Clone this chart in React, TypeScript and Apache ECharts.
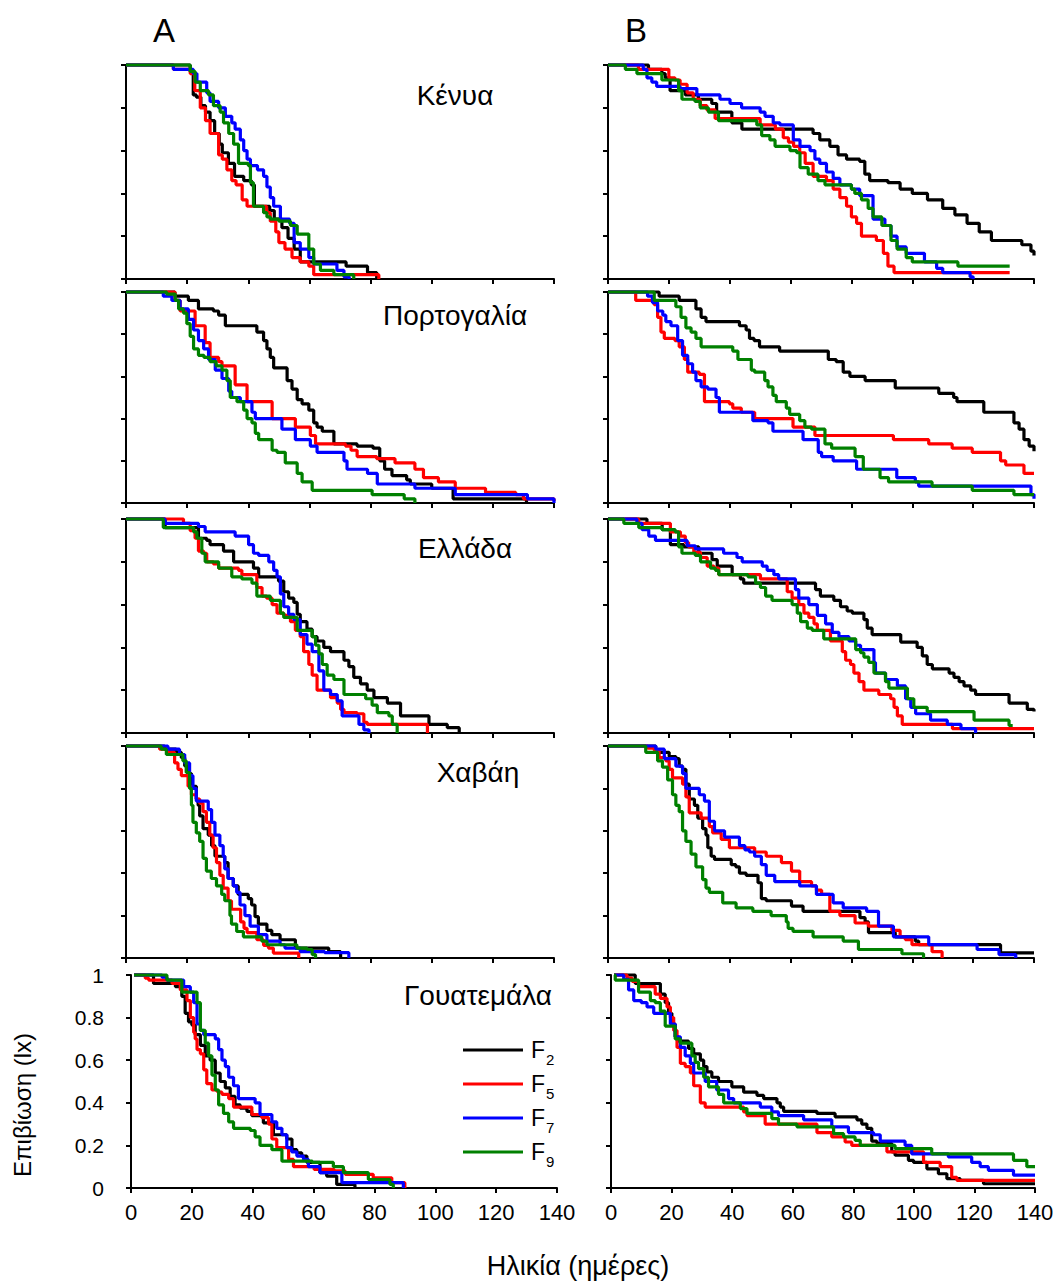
import React, { useEffect, useRef } from 'react';
import * as echarts from 'echarts';

// ---------- Data (day, survival lx) ----------
const xTickValues = [0, 20, 40, 60, 80, 100, 120, 140];
const yTickValues = [0, 0.2, 0.4, 0.6, 0.8, 1];
const seriesNames = ['F2', 'F5', 'F7', 'F9'];
const panelTitles = ['Κένυα', 'Πορτογαλία', 'Ελλάδα', 'Χαβάη', 'Γουατεμάλα'];

// Kenya A
const kenyaA_F2 = [[0,1],[21,0.97],[22,0.86],[23,0.85],[24.5,0.81],[26,0.78],[27.5,0.74],[29,0.68],[30.5,0.63],[31.5,0.59],[33.5,0.54],[35.5,0.48],[38.5,0.46],[41,0.44],[42,0.34],[47,0.32],[48.5,0.28],[51,0.24],[53,0.19],[55,0.14],[57,0.08],[72,0.06],[79,0.03],[82,0]];
const kenyaA_F5 = [[0,1],[15.5,0.98],[21,0.96],[22.5,0.88],[24.3,0.80],[26,0.74],[27.5,0.68],[30.3,0.58],[31.5,0.56],[33,0.51],[34.6,0.46],[36,0.44],[38,0.37],[39.6,0.34],[46,0.31],[47.2,0.27],[49,0.22],[50,0.17],[52,0.14],[54.3,0.10],[57,0.08],[59.8,0.06],[61.4,0.02],[82.7,0]];
const kenyaA_F7 = [[0,1],[15.5,0.98],[22,0.96],[23.2,0.92],[26.4,0.87],[27.5,0.83],[30.3,0.80],[32.5,0.76],[34.6,0.73],[35.7,0.70],[37.4,0.65],[38.5,0.60],[39.6,0.56],[40.7,0.53],[43,0.51],[45,0.48],[46.1,0.43],[47.2,0.38],[48.3,0.34],[50.5,0.28],[53.5,0.26],[55,0.17],[57,0.14],[59.8,0.10],[61.4,0.07],[69,0.04],[71.3,0.01],[73,0]];
const kenyaA_F9 = [[0,1],[21,0.97],[22.6,0.92],[24.3,0.88],[27,0.86],[28.6,0.81],[30.8,0.78],[31.9,0.73],[33.6,0.68],[35.2,0.63],[36.8,0.54],[40,0.53],[40.7,0.45],[41.7,0.34],[45,0.31],[46.1,0.29],[47.2,0.28],[50,0.27],[53.8,0.25],[56,0.21],[59.8,0.14],[61.4,0.07],[63.6,0.04],[68,0.02],[74.5,0]];

// Kenya B
const kenyaB_F2 = [[0,1],[13.3,0.98],[17.7,0.96],[18.8,0.94],[20.4,0.88],[25.4,0.86],[29.7,0.84],[34.1,0.82],[35.7,0.78],[40.7,0.73],[44,0.70],[67.4,0.68],[69.6,0.65],[72.9,0.62],[75.6,0.58],[78.4,0.56],[82.7,0.55],[84.4,0.49],[86,0.46],[92,0.45],[96,0.42],[100,0.40],[105,0.37],[110,0.33],[114,0.30],[118,0.26],[122,0.22],[126,0.18],[136,0.16],[139,0.13],[140,0.11]];
const kenyaB_F5 = [[0,1],[10,0.98],[20,0.94],[22,0.93],[23.7,0.91],[26,0.87],[28,0.84],[30.3,0.81],[32.5,0.79],[35.2,0.75],[50,0.72],[55,0.70],[57.6,0.66],[59.3,0.64],[61,0.62],[63,0.59],[64.8,0.54],[67.4,0.48],[71.8,0.46],[74,0.42],[76.2,0.38],[78.4,0.34],[80,0.29],[81.7,0.26],[83.3,0.20],[88.2,0.18],[90.5,0.12],[92,0.06],[94,0.03],[132,0.03]];
const kenyaB_F7 = [[0,1],[11.6,0.98],[12.8,0.94],[14.4,0.92],[16,0.90],[23.7,0.89],[29.2,0.86],[36.8,0.84],[40.1,0.82],[43.9,0.80],[50,0.78],[51.6,0.76],[54.3,0.73],[56.5,0.72],[60.9,0.65],[63.1,0.62],[66.4,0.60],[68,0.56],[69.6,0.54],[71.8,0.50],[74,0.47],[76.2,0.44],[80,0.42],[82.7,0.39],[87.1,0.28],[91,0.25],[93,0.20],[95,0.15],[98,0.12],[104,0.08],[108,0.05],[110,0.03],[119,0.01],[120,0]];
const kenyaB_F9 = [[0,1],[5.7,0.98],[9.5,0.96],[17.7,0.93],[23.2,0.88],[24.3,0.84],[28.6,0.83],[30.3,0.80],[33,0.78],[36.3,0.74],[48.9,0.72],[50.5,0.67],[53.2,0.65],[54.9,0.62],[59.8,0.60],[62,0.59],[63.1,0.52],[65.8,0.49],[69,0.46],[71.3,0.44],[80,0.42],[81.1,0.40],[83.3,0.37],[85.5,0.33],[87.1,0.29],[90,0.25],[93,0.18],[95,0.14],[98,0.10],[100,0.08],[115,0.06],[132,0.06]];

// Portugal A
const portugalA_F2 = [[0,1],[16,0.98],[20.4,0.96],[23.7,0.92],[28.6,0.91],[30.3,0.89],[32.5,0.84],[42.8,0.81],[45,0.77],[46.1,0.73],[47.2,0.69],[48.3,0.64],[52.7,0.58],[54.3,0.54],[56,0.49],[57.6,0.47],[59.8,0.44],[61.4,0.38],[62.5,0.36],[64.2,0.34],[68,0.28],[75.6,0.27],[80.8,0.26],[83,0.20],[84.6,0.16],[87,0.13],[91.8,0.11],[93,0.09],[100,0.07],[107,0.02],[131,0]];
const portugalA_F5 = [[0,1],[16,0.96],[17.7,0.91],[22.6,0.84],[25.9,0.76],[27.5,0.69],[30.3,0.67],[31.4,0.65],[35.7,0.56],[39.6,0.48],[47.8,0.40],[55.4,0.36],[60.3,0.32],[62,0.28],[71.8,0.27],[73.6,0.25],[75.6,0.22],[82,0.21],[88,0.19],[94.5,0.16],[97.3,0.12],[102.2,0.10],[107.7,0.07],[117.6,0.05],[127.5,0.04],[130,0.02],[140,0.01]];
const portugalA_F7 = [[0,1],[12.2,0.98],[15,0.96],[17.7,0.92],[20.4,0.87],[22.1,0.82],[23.7,0.77],[25.4,0.73],[27,0.68],[29.2,0.63],[31.4,0.59],[33.6,0.53],[34.6,0.50],[37.4,0.48],[41.2,0.43],[42.3,0.40],[51,0.35],[55.4,0.30],[60.3,0.27],[62.5,0.24],[71.3,0.20],[72.3,0.16],[79,0.14],[82.2,0.09],[94.5,0.07],[107.7,0.04],[131.3,0.02],[140,0]];
const portugalA_F9 = [[0,1],[13.3,0.99],[16.1,0.96],[17.2,0.92],[18.8,0.90],[19.9,0.85],[21,0.79],[22.1,0.73],[23.7,0.70],[25.5,0.69],[27.5,0.67],[29.5,0.65],[31.4,0.63],[33,0.58],[34.1,0.50],[36.3,0.48],[38.5,0.44],[39.6,0.40],[41.2,0.38],[42.3,0.33],[43.4,0.30],[47.8,0.25],[49.4,0.24],[52.1,0.19],[56,0.14],[57.6,0.10],[60.9,0.06],[80.5,0.04],[91,0.02],[94.5,0]];

// Portugal B
const portugalB_F2 = [[0,1],[16.8,0.98],[23.4,0.96],[28.9,0.92],[30.6,0.88],[32.2,0.86],[43.2,0.84],[45.4,0.82],[46.5,0.78],[48,0.77],[49.8,0.74],[56.4,0.72],[72.4,0.68],[75,0.67],[77.3,0.62],[79.5,0.60],[84.5,0.58],[94.4,0.545],[108.7,0.52],[113.6,0.50],[114.7,0.48],[123.5,0.43],[133.4,0.38],[135.1,0.35],[136.7,0.30],[138.4,0.27],[140,0.245]];
const portugalB_F5 = [[0,1],[9.1,0.96],[15.2,0.94],[16.3,0.88],[17.4,0.81],[18.5,0.78],[22,0.77],[23.4,0.74],[25.1,0.68],[26.2,0.62],[30,0.61],[31.7,0.48],[39.9,0.47],[41,0.45],[43.8,0.43],[48.2,0.40],[60.8,0.36],[68,0.32],[93.8,0.30],[105.4,0.28],[113.1,0.26],[119.7,0.24],[129,0.20],[130.7,0.18],[136.7,0.14],[140,0.14]];
const portugalB_F7 = [[0,1],[13,0.98],[14.6,0.95],[16.3,0.91],[18,0.89],[19,0.86],[20.7,0.84],[22.9,0.77],[24.5,0.70],[26.2,0.66],[27.8,0.62],[28.9,0.58],[30.6,0.55],[32.8,0.54],[35.5,0.50],[36.6,0.43],[47.6,0.39],[52.6,0.38],[54.2,0.34],[64.1,0.30],[69.1,0.24],[70.2,0.22],[74,0.20],[81.7,0.16],[94.9,0.12],[101,0.10],[102.1,0.08],[139,0.04],[140,0.02]];
const portugalB_F9 = [[0,1],[15.2,0.96],[22.3,0.93],[24,0.88],[25.6,0.83],[27.3,0.81],[28.9,0.78],[30.6,0.74],[41,0.72],[42.7,0.68],[47.1,0.63],[48.2,0.62],[51.5,0.58],[52.6,0.55],[54.2,0.51],[55.3,0.48],[58.6,0.45],[59.7,0.42],[63,0.39],[64.7,0.36],[66.9,0.35],[71.3,0.28],[73.5,0.26],[81.2,0.22],[83.9,0.16],[89.4,0.12],[92.2,0.10],[106.5,0.08],[119.7,0.06],[133.4,0.04],[140,0.04]];

// Greece A
const greeceA_F2 = [[0,1],[12.8,0.96],[23.7,0.91],[26.4,0.90],[27.5,0.88],[31.9,0.85],[35.2,0.80],[41.7,0.77],[43.4,0.73],[49.9,0.71],[51.6,0.66],[53.2,0.63],[54.9,0.61],[56,0.555],[57,0.52],[59.2,0.485],[60.9,0.45],[62.5,0.43],[64.7,0.40],[66.9,0.38],[71.3,0.34],[72.9,0.31],[74.5,0.26],[76.7,0.23],[78.9,0.20],[81.1,0.165],[85.5,0.14],[89.8,0.08],[99.1,0.04],[105.1,0.025],[109,0]];
const greeceA_F5 = [[0,1],[18.8,0.98],[21,0.945],[22.6,0.91],[23.7,0.85],[25.4,0.84],[26.4,0.80],[28.6,0.79],[30.3,0.77],[36.8,0.76],[37.9,0.74],[42.8,0.68],[44.5,0.64],[46,0.63],[47.8,0.60],[49.4,0.56],[51.6,0.55],[53.8,0.52],[55.4,0.48],[57,0.45],[58.1,0.38],[59.8,0.32],[60.9,0.27],[62.5,0.20],[66.9,0.165],[69.1,0.14],[70.2,0.11],[71.3,0.095],[75.6,0.09],[77.8,0.05],[78.9,0.04],[98.6,0]];
const greeceA_F7 = [[0,1],[12.8,0.98],[23.7,0.965],[25.9,0.94],[35.7,0.92],[40.1,0.88],[41.7,0.84],[43.4,0.83],[46.7,0.80],[48.3,0.76],[49.4,0.73],[50.5,0.65],[51.6,0.59],[53.2,0.555],[54.9,0.53],[57,0.46],[59.2,0.415],[60.9,0.38],[63.1,0.29],[64.7,0.20],[66.9,0.18],[69.1,0.15],[70.7,0.08],[76.2,0.04],[77.8,0.015],[79.5,0]];
const greeceA_F9 = [[0,1],[12.2,0.96],[22.1,0.94],[23.2,0.91],[24.8,0.84],[25.9,0.80],[30.3,0.77],[34.6,0.73],[37.9,0.72],[41.2,0.70],[42.8,0.64],[47.2,0.62],[50.5,0.56],[51.6,0.54],[56,0.48],[60.9,0.45],[62,0.41],[63.1,0.37],[64.2,0.32],[65.8,0.27],[68,0.25],[71.3,0.18],[78.4,0.16],[80.5,0.13],[82.2,0.095],[86,0.08],[87.1,0.04],[88.7,0]];

// Greece B
const greeceB_F2 = [[0,1],[12.8,0.98],[17.8,0.95],[20.5,0.88],[24.9,0.87],[29.8,0.84],[34.2,0.81],[35.9,0.78],[40.8,0.74],[43.5,0.72],[44.6,0.70],[68.2,0.67],[69.8,0.64],[74.2,0.62],[76.4,0.59],[78.6,0.57],[80.3,0.56],[84.1,0.53],[85.2,0.49],[86.8,0.46],[96.2,0.425],[101.6,0.40],[103.3,0.36],[104.9,0.32],[106.6,0.30],[112.1,0.28],[113.7,0.26],[115.4,0.24],[117,0.22],[119.2,0.20],[120.8,0.18],[131.8,0.14],[137.8,0.11],[140,0.10]];
const greeceB_F5 = [[0,1],[10.1,0.98],[20.5,0.94],[23.8,0.92],[25.4,0.89],[26.5,0.87],[28.2,0.845],[30.4,0.82],[32.6,0.78],[34.8,0.77],[36.4,0.74],[50.1,0.72],[58.9,0.66],[60.5,0.63],[62.7,0.60],[64.4,0.56],[66,0.54],[67.7,0.51],[68.8,0.48],[73.1,0.43],[77,0.38],[78.1,0.34],[79.7,0.32],[80.8,0.28],[82.5,0.24],[84.1,0.20],[89,0.18],[92.9,0.16],[94,0.12],[95.1,0.08],[96.7,0.04],[113.2,0.02],[140,0.02]];
const greeceB_F7 = [[0,1],[9.5,0.98],[11.2,0.95],[13.4,0.92],[15.6,0.90],[26,0.875],[28.7,0.86],[38,0.84],[42.4,0.82],[44.1,0.80],[50.7,0.78],[52.3,0.76],[54.5,0.74],[56.1,0.72],[61.6,0.67],[62.7,0.63],[66,0.60],[68.8,0.55],[71.5,0.51],[73.7,0.47],[75.9,0.45],[79.2,0.43],[81.4,0.41],[83,0.39],[87.4,0.33],[87.9,0.28],[91.2,0.25],[95.1,0.22],[97.8,0.16],[99.5,0.12],[101.1,0.09],[106,0.06],[111.5,0.04],[116,0.02],[120.8,0]];
const greeceB_F9 = [[0,1],[5.2,0.98],[10.1,0.96],[17.8,0.95],[22.1,0.94],[23.2,0.87],[24.3,0.84],[28.7,0.83],[30.4,0.80],[33.7,0.77],[35.3,0.76],[36.4,0.74],[46,0.73],[48.5,0.70],[50.1,0.68],[51.8,0.64],[53.9,0.62],[60.5,0.60],[62.2,0.56],[63.3,0.52],[65.5,0.49],[67.1,0.48],[70.9,0.44],[81.4,0.39],[83,0.375],[84.1,0.355],[85.7,0.33],[87.4,0.28],[91.2,0.24],[92.3,0.21],[98.4,0.16],[100.5,0.12],[104.9,0.10],[120.3,0.06],[131.8,0.035],[133,0.035]];

// Hawaii A
const hawaiiA_F2 = [[0,1],[12.6,0.985],[16.4,0.97],[18.1,0.945],[19.2,0.906],[20.3,0.87],[21.4,0.81],[23,0.75],[23.6,0.72],[24.1,0.67],[25.2,0.61],[26.9,0.58],[28,0.53],[29.1,0.48],[32.3,0.45],[33.4,0.375],[35.1,0.34],[36.7,0.30],[40,0.28],[41.1,0.25],[42.2,0.195],[43.3,0.16],[46.1,0.13],[47.7,0.11],[50.4,0.086],[55.4,0.047],[66.3,0.03],[70.2,0]];
const hawaiiA_F5 = [[0,1],[11,0.985],[13.7,0.97],[15.9,0.92],[17,0.89],[18.1,0.86],[20.3,0.81],[21.4,0.77],[23,0.75],[24.1,0.73],[25.2,0.69],[26.3,0.64],[27.4,0.58],[28.5,0.52],[29.6,0.45],[30.7,0.39],[31.8,0.33],[33.4,0.27],[34.5,0.23],[37.5,0.17],[38.6,0.14],[39.6,0.12],[42.8,0.086],[45,0.06],[46.6,0.047],[48.2,0.023],[56.5,0]];
const hawaiiA_F7 = [[0,1],[13.7,0.985],[17.5,0.96],[19.2,0.92],[20.8,0.86],[21.9,0.80],[23,0.74],[26.9,0.70],[28,0.64],[29.1,0.58],[30.7,0.53],[31.8,0.48],[32.3,0.42],[33.4,0.375],[35.1,0.34],[36.2,0.31],[37.3,0.25],[38.9,0.20],[40.6,0.15],[43.3,0.11],[46.1,0.08],[50.4,0.0625],[52,0.047],[57,0.03],[65,0.025],[72.9,0]];
const hawaiiA_F9 = [[0,1],[11.5,0.985],[13.2,0.96],[18.6,0.93],[19.7,0.875],[20.8,0.80],[21.4,0.72],[21.9,0.64],[23,0.59],[24.1,0.55],[25.2,0.47],[26.3,0.41],[27.9,0.375],[29.6,0.34],[31.3,0.30],[32.3,0.27],[34,0.20],[34.5,0.16],[36.2,0.125],[38.4,0.10],[44.4,0.08],[46.1,0.0625],[55.9,0.047],[59.2,0.04],[60.9,0.016],[62,0]];

// Hawaii B
const hawaiiB_F2 = [[0,1],[15.7,0.97],[20.1,0.95],[22.3,0.94],[23.4,0.905],[24.5,0.89],[25.6,0.82],[26.7,0.75],[28.4,0.72],[29.5,0.66],[31.1,0.61],[32.2,0.58],[32.8,0.52],[33.9,0.48],[35,0.465],[40.5,0.44],[42,0.43],[43.2,0.40],[45.4,0.39],[49.3,0.355],[50.4,0.28],[52,0.27],[60.3,0.245],[64.1,0.22],[82.8,0.19],[84.5,0.17],[85.6,0.12],[94.4,0.10],[101,0.08],[102.1,0.063],[129,0.024],[140,0.024]];
const hawaiiB_F5 = [[0,1],[13,0.99],[15.2,0.98],[16.8,0.945],[19,0.93],[20.1,0.89],[21.2,0.85],[24.5,0.82],[25.6,0.76],[26.7,0.685],[30.6,0.66],[33.3,0.62],[34.4,0.59],[37.2,0.56],[39.9,0.52],[48.2,0.50],[52,0.48],[57,0.45],[60.3,0.41],[63,0.36],[66.9,0.34],[68.5,0.32],[70.2,0.30],[72.9,0.22],[76.2,0.20],[81.2,0.165],[85.6,0.15],[93.3,0.13],[96,0.10],[97.7,0.087],[99.9,0.063],[106.5,0.03],[109.8,0]];
const hawaiiB_F7 = [[0,1],[15.7,0.985],[18.5,0.94],[22.3,0.905],[24.5,0.87],[25.6,0.80],[30,0.77],[31.7,0.74],[33.3,0.645],[35,0.60],[38.3,0.57],[43.2,0.53],[45,0.51],[46.5,0.50],[48.2,0.48],[50.4,0.44],[52,0.39],[54.8,0.36],[63,0.34],[68.5,0.30],[74,0.26],[77.3,0.236],[85,0.22],[88.9,0.15],[93.8,0.10],[105.4,0.063],[121.3,0.04],[128.5,0.016],[134,0]];
const hawaiiB_F9 = [[0,1],[12.4,0.97],[16.3,0.93],[17.9,0.90],[19.6,0.84],[21.2,0.77],[22.3,0.72],[23.4,0.69],[24.5,0.60],[25.6,0.55],[27.3,0.49],[28.9,0.43],[31.1,0.37],[32.2,0.33],[33.3,0.31],[37.7,0.26],[42.1,0.236],[47.6,0.22],[53.6,0.20],[58.6,0.17],[59.2,0.14],[60.8,0.126],[67.4,0.10],[77.3,0.08],[82.3,0.04],[96.6,0.02],[103.7,0]];

// Guatemala A
const guatemalaA_F2 = [[1,1],[7.4,0.96],[14.6,0.945],[16.7,0.90],[17.8,0.82],[18.9,0.78],[20,0.765],[21.1,0.72],[22.8,0.67],[24.4,0.62],[26,0.60],[27.7,0.54],[29.3,0.50],[31,0.47],[32.6,0.43],[34.2,0.39],[35.9,0.375],[38.1,0.36],[39.7,0.34],[43.5,0.306],[46.8,0.25],[51.2,0.23],[52.9,0.18],[54.5,0.165],[56.1,0.15],[57.8,0.12],[62.1,0.072],[64.3,0.056],[67.6,0.017],[73.6,0]];
const guatemalaA_F5 = [[1,1],[4.7,0.985],[5.8,0.976],[13.5,0.96],[16.2,0.93],[18.4,0.88],[19.5,0.80],[20.6,0.73],[21.1,0.70],[21.7,0.65],[22.8,0.63],[23.9,0.555],[24.9,0.49],[26.6,0.46],[28.5,0.45],[29.9,0.44],[32.1,0.42],[33.7,0.38],[39.7,0.345],[43,0.33],[45.2,0.30],[46.3,0.23],[47.9,0.19],[51.8,0.134],[53.4,0.10],[60.2,0.087],[66.8,0.08],[70.4,0.064],[79.6,0.048],[85.7,0.025],[90,0]];
const guatemalaA_F7 = [[1,1],[10.2,0.99],[11.8,0.976],[17.3,0.945],[19.5,0.92],[20.6,0.87],[21.7,0.77],[22.8,0.74],[23.9,0.72],[27.7,0.70],[28.8,0.65],[29.9,0.60],[31,0.57],[32.1,0.52],[33.7,0.48],[35.3,0.42],[40.8,0.40],[42.4,0.345],[46.3,0.31],[47.9,0.28],[49.6,0.25],[51.2,0.19],[52.8,0.17],[54.5,0.15],[56.7,0.134],[58.3,0.10],[62.1,0.072],[69.3,0.025],[89.5,0]];
const guatemalaA_F9 = [[1,1],[11.8,0.976],[16.7,0.92],[21.7,0.87],[22.8,0.74],[24.4,0.68],[25.5,0.62],[26.6,0.53],[27.7,0.46],[28.8,0.39],[30.4,0.35],[32.1,0.31],[33.7,0.28],[39.2,0.27],[40.8,0.24],[42.4,0.20],[46.3,0.18],[49.6,0.126],[59.6,0.12],[66.5,0.10],[69.8,0.072],[78,0.04],[85.1,0.017],[86.2,0]];

// Guatemala B
const guatemalaB_F2 = [[1,1],[8,0.96],[16.3,0.91],[17.9,0.87],[19,0.82],[20.1,0.77],[21.2,0.71],[22.3,0.69],[25.6,0.655],[27.3,0.63],[29.5,0.60],[30.6,0.57],[31.7,0.545],[33.3,0.52],[35.5,0.50],[39.9,0.475],[43.8,0.45],[48.2,0.435],[50.4,0.42],[54.8,0.40],[55.9,0.38],[57,0.36],[68,0.35],[74,0.334],[81.2,0.32],[82.8,0.30],[84.5,0.28],[86.1,0.22],[87.8,0.21],[92.7,0.17],[93.8,0.154],[98.2,0.13],[99.9,0.12],[104.3,0.09],[108.1,0.067],[110.9,0.044],[115.3,0.036],[123,0.02],[140,0.02]];
const guatemalaB_F5 = [[1,1],[5.3,0.985],[7,0.97],[9.1,0.945],[14.6,0.91],[16.3,0.89],[18.5,0.85],[19.6,0.80],[20.7,0.74],[21.8,0.66],[22.9,0.585],[24.5,0.57],[26.2,0.54],[27.3,0.48],[29.5,0.40],[31.1,0.38],[43.8,0.357],[44.9,0.34],[50.9,0.30],[68,0.26],[72.9,0.24],[77.3,0.216],[79.5,0.20],[91.1,0.17],[103.2,0.12],[108.7,0.10],[112.5,0.05],[114.2,0.036],[140,0.036]];
const guatemalaB_F7 = [[1,1],[4.2,0.98],[5.8,0.93],[7.5,0.88],[10,0.87],[11.9,0.85],[14.1,0.82],[19.6,0.77],[21.2,0.71],[22.9,0.66],[24.5,0.62],[26.2,0.585],[27.3,0.54],[31.1,0.50],[34.9,0.46],[38.8,0.42],[40.5,0.40],[49.3,0.38],[53.1,0.357],[55.3,0.34],[63.6,0.32],[72.9,0.287],[78.4,0.26],[86.7,0.25],[88.9,0.22],[97.1,0.20],[99.3,0.16],[111.4,0.146],[119.1,0.12],[121.9,0.10],[124.6,0.083],[132.9,0.06],[140,0.06]];
const guatemalaB_F9 = [[1,1],[1.4,0.976],[9.1,0.92],[13,0.88],[14.6,0.87],[16.3,0.83],[17.9,0.76],[21.2,0.70],[22.9,0.68],[26.7,0.62],[27.8,0.59],[28.9,0.56],[30.6,0.52],[32.2,0.475],[35.5,0.44],[37.2,0.40],[42.7,0.373],[44.9,0.35],[53.1,0.326],[55.3,0.30],[61.4,0.287],[73.5,0.255],[76.8,0.24],[80.6,0.224],[82.3,0.20],[93.8,0.185],[105.9,0.16],[132.9,0.13],[137.3,0.10],[140,0.10]];

const panelData = [
  [kenyaA_F2, kenyaA_F5, kenyaA_F7, kenyaA_F9],
  [kenyaB_F2, kenyaB_F5, kenyaB_F7, kenyaB_F9],
  [portugalA_F2, portugalA_F5, portugalA_F7, portugalA_F9],
  [portugalB_F2, portugalB_F5, portugalB_F7, portugalB_F9],
  [greeceA_F2, greeceA_F5, greeceA_F7, greeceA_F9],
  [greeceB_F2, greeceB_F5, greeceB_F7, greeceB_F9],
  [hawaiiA_F2, hawaiiA_F5, hawaiiA_F7, hawaiiA_F9],
  [hawaiiB_F2, hawaiiB_F5, hawaiiB_F7, hawaiiB_F9],
  [guatemalaA_F2, guatemalaA_F5, guatemalaA_F7, guatemalaA_F9],
  [guatemalaB_F2, guatemalaB_F5, guatemalaB_F7, guatemalaB_F9],
];

// ---------- Layout / style ----------
const COLORS = ['#000000', '#ff0000', '#0000ff', '#008000'];
const FONT = '"Liberation Sans", Arial, sans-serif';
const rowTops = [65, 292, 519, 746, 975];
const rowHeights = [214, 211, 214, 212, 213];
const colLeft = [[126, 608], [126, 608], [126, 608], [126, 608], [131, 611]];
const colWidth = [[428, 426], [428, 426], [428, 426], [428, 426], [426, 424]];
const titleY = [95, 315, 548, 772, 995];
const titleX = [455, 455, 465, 478, 478];

function buildOption() {
  const grid: any[] = [];
  const xAxis: any[] = [];
  const yAxis: any[] = [];
  const series: any[] = [];
  for (let r = 0; r < 5; r++) {
    for (let c = 0; c < 2; c++) {
      const idx = r * 2 + c;
      grid.push({
        left: colLeft[r][c],
        top: rowTops[r],
        width: colWidth[r][c],
        height: rowHeights[r],
        show: false,
      });
      const isBottom = r === 4;
      xAxis.push({
        type: 'value',
        gridIndex: idx,
        min: xTickValues[0],
        max: xTickValues[xTickValues.length - 1],
        interval: 20,
        axisLine: { show: true, onZero: false, lineStyle: { color: '#000', width: 2 } },
        axisTick: { show: true, inside: false, length: 5, lineStyle: { color: '#000', width: 2 } },
        splitLine: { show: false },
        axisLabel: {
          show: isBottom,
          color: '#000',
          fontSize: 22,
          fontFamily: FONT,
          margin: 13,
        },
      });
      yAxis.push({
        type: 'value',
        gridIndex: idx,
        min: yTickValues[0],
        max: yTickValues[yTickValues.length - 1],
        interval: 0.2,
        axisLine: { show: true, onZero: false, lineStyle: { color: '#000', width: 2 } },
        axisTick: { show: true, inside: false, length: 5, lineStyle: { color: '#000', width: 2 } },
        splitLine: { show: false },
        axisLabel: {
          show: isBottom && c === 0,
          color: '#000',
          fontSize: 21,
          fontFamily: FONT,
          margin: 27,
          formatter: (v: number) => (v === 0 ? '0' : v === 1 ? '1' : v.toFixed(1)),
        },
      });
      panelData[idx].forEach((d, s) => {
        series.push({
          type: 'line',
          name: seriesNames[s] + '_' + idx,
          xAxisIndex: idx,
          yAxisIndex: idx,
          data: d,
          step: 'end',
          showSymbol: false,
          symbol: 'none',
          clip: false,
          silent: true,
          lineStyle: { color: COLORS[s], width: 3.2 },
          itemStyle: { color: COLORS[s] },
          z: 2 + s,
        });
      });
    }
  }

  const graphic: any[] = [];
  graphic.push({ type: 'text', x: 164, y: 30, style: { text: 'A', fontSize: 33, fontFamily: FONT, fill: '#000', align: 'center', verticalAlign: 'middle' } });
  graphic.push({ type: 'text', x: 636, y: 30, style: { text: 'B', fontSize: 33, fontFamily: FONT, fill: '#000', align: 'center', verticalAlign: 'middle' } });
  panelTitles.forEach((t, i) => {
    graphic.push({ type: 'text', x: titleX[i], y: titleY[i], style: { text: t, fontSize: 28, fontFamily: FONT, fill: '#000', align: 'center', verticalAlign: 'middle' } });
  });
  // legend
  const legY = [1050, 1084, 1118, 1152];
  const subs = ['2', '5', '7', '9'];
  legY.forEach((y, i) => {
    graphic.push({ type: 'line', shape: { x1: 463, y1: y, x2: 523, y2: y }, style: { stroke: COLORS[i], lineWidth: 3.2 } });
    graphic.push({ type: 'text', x: 531, y: y, style: { text: 'F', fontSize: 23, fontFamily: FONT, fill: '#000', align: 'left', verticalAlign: 'middle' } });
    graphic.push({ type: 'text', x: 546, y: y + 9, style: { text: subs[i], fontSize: 15, fontFamily: FONT, fill: '#000', align: 'left', verticalAlign: 'middle' } });
  });
  // axis titles
  graphic.push({ type: 'text', x: 22, y: 1105, rotation: Math.PI / 2, style: { text: 'Επιβίωση (lx)', fontSize: 24, fontFamily: FONT, fill: '#000', align: 'center', verticalAlign: 'middle' } });
  graphic.push({ type: 'text', x: 578, y: 1266, style: { text: 'Ηλικία (ημέρες)', fontSize: 27, fontFamily: FONT, fill: '#000', align: 'center', verticalAlign: 'middle' } });

  return {
    animation: false,
    backgroundColor: '#ffffff',
    grid,
    xAxis,
    yAxis,
    series,
    graphic,
  };
}

export default function App() {
  const ref = useRef<HTMLDivElement>(null);
  useEffect(() => {
    if (!ref.current) return;
    const chart = echarts.init(ref.current, undefined, { renderer: 'svg' });
    chart.setOption(buildOption() as any);
    return () => chart.dispose();
  }, []);
  return (
    <div
      ref={ref}
      style={{ position: 'absolute', left: 0, top: 0, width: 1063, height: 1282, background: '#fff' }}
    />
  );
}
